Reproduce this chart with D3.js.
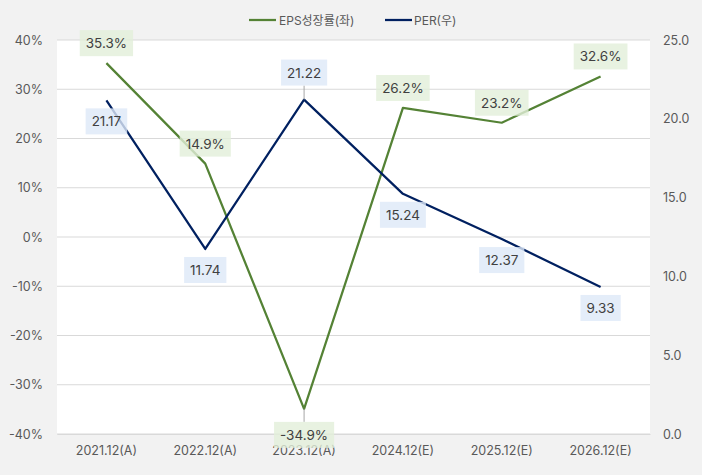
<!DOCTYPE html>
<html><head><meta charset="utf-8">
<script src="https://cdn.jsdelivr.net/npm/d3@7"></script>
<style>
html,body{margin:0;padding:0;background:#f2f2f2;}
svg{display:block;font-family:Inter,"Noto Sans CJK KR",sans-serif;}
</style></head><body>
<svg id="c" width="702" height="475"></svg>
<script>
const categories = ["2021.12(A)","2022.12(A)","2023.12(A)","2024.12(E)","2025.12(E)","2026.12(E)"];
const epsGrowth = [35.3, 14.9, -34.9, 26.2, 23.2, 32.6];
const per = [21.17, 11.74, 21.22, 15.24, 12.37, 9.33];
const leftTicks = [-40,-30,-20,-10,0,10,20,30,40];
const rightTicks = [0,5,10,15,20,25];
const epsLabelPos = ["above","above","below","above","above","above"];
const perLabelPos = ["below","below","above","below","below","below"];

const svg = d3.select("#c");
const L = 57, R = 650, T = 40, B = 434;
const green = "#548235", navy = "#002060";

svg.append("rect").attr("x",0).attr("y",0).attr("width",702).attr("height",475).attr("fill","#f2f2f2");
svg.append("rect").attr("x",L).attr("y",T).attr("width",R-L).attr("height",B-T).attr("fill","#ffffff");

const x = d3.scaleBand().domain(categories).range([L,R]);
const yL = d3.scaleLinear().domain([-40,40]).range([B,T]);
const yR = d3.scaleLinear().domain([0,25]).range([B,T]);
const cx = c => x(c) + x.bandwidth()/2;

// gridlines
svg.append("g").selectAll("line").data(leftTicks).join("line")
  .attr("x1",L).attr("x2",R).attr("y1",d=>yL(d)).attr("y2",d=>yL(d))
  .attr("stroke","#d9d9d9").attr("stroke-width",1);

// left axis
const axL = svg.append("g").attr("transform",`translate(${L},0)`)
  .call(d3.axisLeft(yL).tickValues(leftTicks).tickFormat(d=>d+"%").tickSize(0).tickPadding(14));
axL.select(".domain").remove();
axL.selectAll("text").attr("fill","#595959").style("font-size","12.5px").style("font-family","Inter,'Noto Sans CJK KR',sans-serif");

// right axis
const axR = svg.append("g").attr("transform",`translate(${R},0)`)
  .call(d3.axisRight(yR).tickValues(rightTicks).tickFormat(d3.format(".1f")).tickSize(0).tickPadding(13));
axR.select(".domain").remove();
axR.selectAll("text").attr("fill","#595959").style("font-size","12.5px").style("font-family","Inter,'Noto Sans CJK KR',sans-serif");

// x axis
const axX = svg.append("g").attr("transform",`translate(0,${B})`)
  .call(d3.axisBottom(x).tickSize(0).tickPadding(12));
axX.select(".domain").attr("stroke","#d9d9d9");
axX.selectAll("text").attr("fill","#595959").style("font-size","12.5px").style("font-family","Inter,'Noto Sans CJK KR',sans-serif");

// lines
const epsData = categories.map((c,i)=>({c, v:epsGrowth[i], pos:epsLabelPos[i]}));
const perData = categories.map((c,i)=>({c, v:per[i], pos:perLabelPos[i]}));

svg.append("path").datum(epsData)
  .attr("d", d3.line().x(d=>cx(d.c)).y(d=>yL(d.v)))
  .attr("fill","none").attr("stroke",green).attr("stroke-width",2.25).attr("stroke-linejoin","round");
svg.append("path").datum(perData)
  .attr("d", d3.line().x(d=>cx(d.c)).y(d=>yR(d.v)))
  .attr("fill","none").attr("stroke",navy).attr("stroke-width",2.25).attr("stroke-linejoin","round");

// labels
function drawLabels(data, yS, fmt, fill, offAbove, offBelow, leaderIdx){
  const g = svg.append("g");
  data.forEach((d,i)=>{
    const px = cx(d.c), py = yS(d.v);
    const cy = d.pos==="above" ? py - offAbove : py + offBelow;
    if (leaderIdx.includes(i)) {
      g.append("line").attr("x1",px).attr("x2",px).attr("y1",py)
        .attr("y2", d.pos==="above" ? cy+13 : cy-13)
        .attr("stroke","#a6a6a6").attr("stroke-width",1);
    }
    const t = g.append("text").attr("x",px).attr("y",cy).attr("text-anchor","middle")
      .attr("dominant-baseline","central").attr("fill","#404040")
      .style("font-size","13.5px").text(fmt(d.v));
    const bb = t.node().getBBox();
    g.insert("rect", () => t.node())
      .attr("x", px - bb.width/2 - 6).attr("y", cy - 13)
      .attr("width", bb.width + 12).attr("height", 26)
      .attr("fill", fill).attr("fill-opacity",0.8);
  });
}
drawLabels(epsData, yL, v=>v.toFixed(1)+"%", "#e2efda", 20, 26, [2]);
drawLabels(perData, yR, v=>v.toFixed(2), "#dde9f7", 27, 21, [2]);

// legend
const lg = svg.append("g").style("font-size","12px");
lg.append("line").attr("x1",249).attr("x2",276).attr("y1",20).attr("y2",20).attr("stroke",green).attr("stroke-width",2.25);
lg.append("text").attr("x",279).attr("y",20).attr("dominant-baseline","central").attr("fill","#595959").text("EPS성장률(좌)");
lg.append("line").attr("x1",385).attr("x2",412).attr("y1",20).attr("y2",20).attr("stroke",navy).attr("stroke-width",2.25);
lg.append("text").attr("x",414).attr("y",20).attr("dominant-baseline","central").attr("fill","#595959").text("PER(우)");
</script>
</body></html>
